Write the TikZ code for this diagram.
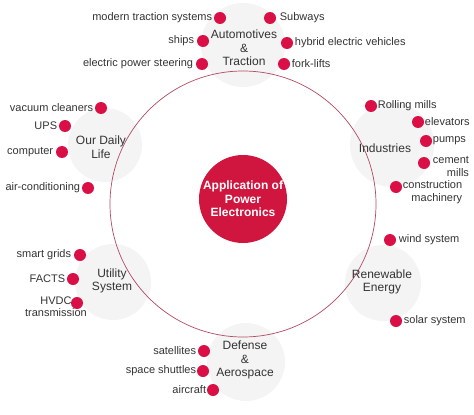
\documentclass[tikz,border=0pt]{standalone}
\usepackage{fontspec}
\setmainfont{Liberation Sans}
\definecolor{dotred}{HTML}{D90F45}
\definecolor{hubred}{HTML}{D0163F}
\definecolor{ringred}{HTML}{B04A60}
\definecolor{halo}{HTML}{F4F4F4}
\definecolor{txt}{HTML}{333333}
\begin{document}
\begin{tikzpicture}[x=1pt,y=-1pt,
  dot/.style={circle,fill=dotred,minimum size=12pt,inner sep=0pt},
  item/.style={font=\fontsize{11}{12.5}\selectfont,text=txt,inner sep=1.5pt},
  cat/.style={font=\fontsize{12}{13.5}\selectfont,text=txt,align=center,inner sep=0pt},
  haloc/.style={circle,fill=halo,inner sep=0pt}]
\useasboundingbox (0,0) rectangle (474,415);
% halos
\node[haloc,minimum size=84pt] (h1) at (243,45) {};
\node[haloc,minimum size=74pt] (h2) at (105,145) {};
\node[haloc,minimum size=84pt] (h3) at (392,145) {};
\node[haloc,minimum size=76pt] (h4) at (113,282) {};
\node[haloc,minimum size=76pt] (h5) at (383,283) {};
\node[haloc,minimum size=78pt] (h6) at (246,362) {};
% ring
\node[circle,draw=ringred,line width=0.7pt,minimum size=266pt,inner sep=0pt] (ring) at (243,204) {};
% hub
\node[circle,fill=hubred,minimum size=88pt,inner sep=0pt,text=white,align=center,
  font=\fontsize{12}{13.5}\bfseries\selectfont] (hub) at (243,199) {Application of\\Power\\Electronics};
% categories
\node[cat] (auto) at (244,48) {Automotives\\\&\\Traction};
\node[cat] (daily) at (101,147) {Our Daily\\Life};
\node[cat] (ind) at (385,148) {Industries};
\node[cat] (util) at (112,281) {Utility\\System};
\node[cat] (ren) at (382,282) {Renewable\\Energy};
\node[cat] (def) at (245,360) {Defense\\\&\\Aerospace};
% automotive dots
\node[dot] (a1) at (220,18) {};
\node[item,anchor=east] at (a1.west) {modern traction systems};
\node[dot] (a2) at (270,18) {};
\node[item,anchor=west] at ([xshift=2pt]a2.east) {Subways};
\node[dot] (a3) at (203,41) {};
\node[item,anchor=east] at ([xshift=-1pt]a3.west) {ships};
\node[dot] (a4) at (287,43) {};
\node[item,anchor=west] at (a4.east) {hybrid electric vehicles};
\node[dot] (a5) at (202,64) {};
\node[item,anchor=east] at ([xshift=-1pt]a5.west) {electric power steering};
\node[dot] (a6) at (284,64) {};
\node[item,anchor=west] at (a6.east) {fork-lifts};
% daily life
\node[dot] (d1) at (101,108) {};
\node[item,anchor=east] at (d1.west) {vacuum cleaners};
\node[dot] (d2) at (65,126) {};
\node[item,anchor=east] at (d2.west) {UPS};
\node[dot] (d3) at (62,152) {};
\node[item,anchor=east] at ([xshift=-1pt]d3.west) {computer};
\node[dot] (d4) at (88,188) {};
\node[item,anchor=east] at (d4.west) {air-conditioning};
% industries
\node[dot] (i1) at (371,106) {};
\node[item,anchor=west] at ([xshift=-1pt]i1.east) {Rolling mills};
\node[dot] (i2) at (418,122) {};
\node[item,anchor=west] at ([xshift=-1pt]i2.east) {elevators};
\node[dot] (i3) at (426,141) {};
\node[item,anchor=west] at ([xshift=-1pt]i3.east) {pumps};
\node[dot] (i4) at (424,163) {};
\node[item,anchor=north west,align=right] at ([xshift=1pt,yshift=8pt]i4.east) {cement\\mills};
\node[dot] (i5) at (396,187) {};
\node[item,anchor=north west,align=right] at ([xshift=-1pt,yshift=8pt]i5.east) {construction\\machinery};
% renewable
\node[dot] (r1) at (390,240) {};
\node[item,anchor=west] at ([xshift=1pt]r1.east) {wind system};
\node[dot] (r2) at (396,321) {};
\node[item,anchor=west] at (r2.east) {solar system};
% utility
\node[dot] (u1) at (80,255) {};
\node[item,anchor=east] at ([xshift=-1pt]u1.west) {smart grids};
\node[dot] (u2) at (73,279) {};
\node[item,anchor=east] at (u2.west) {FACTS};
\node[dot] (u3) at (77,303) {};
\node[item,align=center,anchor=north] at (56,295) {HVDC\\transmission};
% defense
\node[dot] (f1) at (204,351) {};
\node[item,anchor=east] at (f1.west) {satellites};
\node[dot] (f2) at (203,371) {};
\node[item,anchor=east] at ([xshift=1pt]f2.west) {space shuttles};
\node[dot] (f3) at (213,390) {};
\node[item,anchor=east] at ([xshift=1pt]f3.west) {aircraft};
\end{tikzpicture}
\end{document}
